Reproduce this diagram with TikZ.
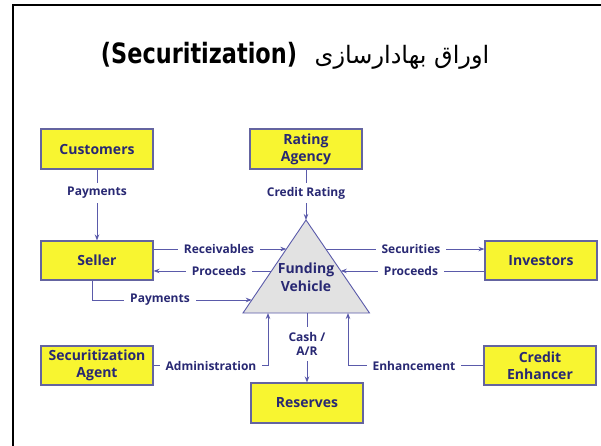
\documentclass[tikz,border=0pt]{standalone}
\usepackage{fontspec}
\usetikzlibrary{arrows.meta,calc}
\TeXXeTstate=1
\newfontfamily\diagfont{Open Sans}
\newfontfamily\titlefont{DejaVu Sans}
\newfontfamily\arabicfont[Script=Arabic]{DejaVu Sans}
\definecolor{boxfill}{RGB}{248,245,48}
\definecolor{boxline}{RGB}{100,100,160}
\definecolor{navy}{RGB}{40,40,115}
\definecolor{linecol}{RGB}{90,90,170}
\definecolor{trifill}{RGB}{226,226,226}
\begin{document}
\begin{tikzpicture}[x=1pt,y=-1pt,
  box/.style={draw=boxline, line width=1.1pt, fill=boxfill, minimum width=112pt,
    minimum height=40pt, inner sep=0pt, align=center, text=navy,
    font=\diagfont\bfseries\fontsize{14}{17}\selectfont},
  lbl/.style={fill=white, inner xsep=6pt, inner ysep=4pt, text=navy,
    font=\diagfont\bfseries\fontsize{12}{14.5}\selectfont},
  conn/.style={draw=linecol, line width=0.9pt},
  arr/.style={conn, -{Stealth[length=6pt,width=4.5pt]}},
]
\useasboundingbox (0,0) rectangle (601,445);
\fill[white] (0,0) rectangle (601,445);
% slide frame
\draw[line width=2pt] (13,446) -- (13,5) -- (602,5);

% title
\node[anchor=base, inner sep=0pt, font=\titlefont\bfseries\fontsize{28}{30}\selectfont]
  (titleEn) at (199,63) {\scalebox{0.8}[1]{(Securitization)}};
\node[anchor=base, inner sep=0pt, font=\arabicfont\fontsize{24}{28}\selectfont]
  (titleFa) at (402,63) {\beginR اوراق بهادارسازی\endR};

% parties
\node[box] (cust) at (97,149) {Customers};
\node[box] (rating) at (306,149) {Rating\\Agency};
\node[box, minimum height=39pt] (seller) at (97,260.5) {Seller};
\node[box, minimum height=39pt] (inv) at (541,260.5) {Investors};
\node[box, minimum height=39pt] (agent) at (97,365.5) {Securitization\\Agent};
\node[box, minimum height=39pt] (enh) at (540,365.5) {Credit\\Enhancer};
\node[box] (res) at (307,403) {Reserves};

% funding vehicle
\coordinate (apex) at (306,220);
\coordinate (bl) at (243,313);
\coordinate (br) at (369.5,313);
\draw[draw=linecol, line width=0.9pt, fill=trifill] (apex) -- (bl) -- (br) -- cycle;
\node[align=center, text=navy, font=\diagfont\bfseries\fontsize{14}{18}\selectfont]
  (fv) at (306,277) {Funding\\Vehicle};

% attachment points on the triangle
\coordinate (recvT) at ($(apex)!0.312!(bl)$);
\coordinate (procLT) at ($(apex)!0.548!(bl)$);
\coordinate (payT) at ($(apex)!0.86!(bl)$);
\coordinate (secT) at ($(apex)!0.312!(br)$);
\coordinate (procRT) at ($(apex)!0.548!(br)$);
\coordinate (adminT) at (268,313);
\coordinate (enhT) at (348,313);
\coordinate (cashT) at (307,313);

% flows
\draw[arr] (cust) -- (seller);
\draw[arr] (rating) -- (apex);
\draw[arr] (seller.east |- recvT) -- (recvT);
\draw[arr] (procLT) -- (seller.east |- procLT);
\draw[arr] ([xshift=-5pt]seller.south) |- (payT);
\draw[arr] (secT) -- (inv.west |- secT);
\draw[arr] (inv.west |- procRT) -- (procRT);
\draw[arr] (agent.east) -| (adminT);
\draw[arr] (enh.west) -| (enhT);
\draw[arr] (cashT) -- (res);

% flow labels
\node[lbl] (lPay1) at (97,193) {Payments};
\node[lbl] (lRate) at (306,193) {Credit Rating};
\node[lbl] (lRecv) at (219,249) {Receivables};
\node[lbl] (lProcL) at (219,271) {Proceeds};
\node[lbl] (lPay2) at (160,300) {Payments};
\node[lbl] (lSec) at (411,249) {Securities};
\node[lbl] (lProcR) at (411,271) {Proceeds};
\node[lbl] (lAdmin) at (211,365.5) {Administration};
\node[lbl] (lEnh) at (414,365.5) {Enhancement};
\node[lbl, align=center, inner ysep=5pt] (lCash) at (307,344) {Cash /\\A/R};
\end{tikzpicture}
\end{document}
